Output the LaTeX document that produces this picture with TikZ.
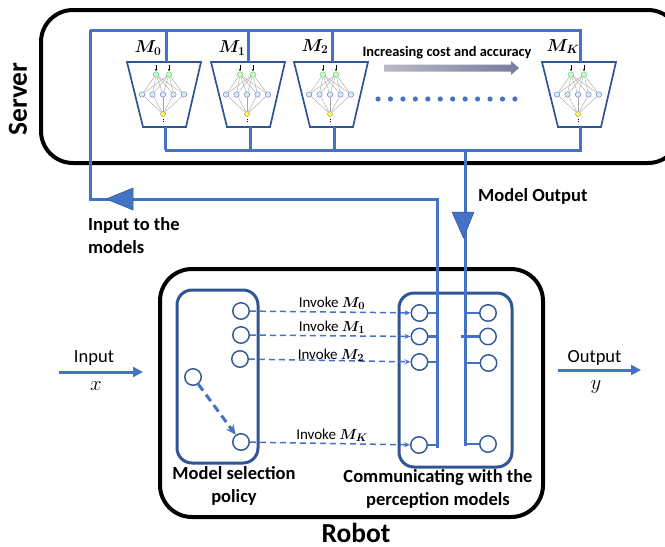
\documentclass[tikz,border=0pt]{standalone}
\usepackage{amsmath}
\usepackage{fontspec}
\setmainfont{Carlito}
\usetikzlibrary{arrows.meta}
\definecolor{blueline}{HTML}{4472C4}
\definecolor{bluedark}{HTML}{2F5597}
\tikzset{
  hostbox/.style={draw=black,line width=4pt,rounded corners=32pt},
  innerbox/.style={draw=bluedark,line width=3pt,rounded corners=15pt},
  link/.style={draw=blueline,line width=3pt},
  thinlink/.style={draw=blueline,line width=2.4pt},
  invoke/.style={draw=blueline,line width=1.5pt,dash pattern=on 6pt off 4pt,-{Stealth[length=6pt,width=5pt]}},
  port/.style={circle,draw=bluedark,line width=1.4pt,fill=white,minimum size=16.5pt,inner sep=0pt},
  trap/.style={draw=bluedark,line width=1.7pt,fill=white},
  nnedge/.style={draw=gray!70,line width=0.4pt},
  nngreen/.style={circle,draw=green!45!gray,line width=0.3pt,fill=green!22,minimum size=5.5pt,inner sep=0pt},
  nnblue/.style={circle,draw=blue!35!gray,line width=0.3pt,fill=cyan!18,minimum size=5.5pt,inner sep=0pt},
  nnyellow/.style={circle,draw=olive,line width=0.3pt,fill=yellow!55,minimum size=5pt,inner sep=0pt},
  heavy/.style={font=\fontsize{18.5}{23}\selectfont\bfseries,align=center,inner sep=0pt},
  bigtitle/.style={font=\fontsize{27.5}{30}\selectfont\bfseries,inner sep=0pt},
  plain/.style={font=\fontsize{18.5}{22}\selectfont,inner sep=0pt},
  small/.style={font=\fontsize{15}{17}\selectfont\boldmath,inner sep=0pt},
  modelname/.style={font=\fontsize{18.5}{20}\selectfont\boldmath,inner sep=0pt},
  tri/.style={fill=blueline,draw=bluedark,line width=0.5pt},
  flow/.style={draw=blueline,line width=3pt,-{Triangle[length=10pt,width=10pt]}},
}
% name, horizontal shift, x of the top link, x of the bottom link
\newcommand{\nnmodel}[4]{%
  \coordinate (#1top) at (#3,62);
  \coordinate (#1bot) at (#4,127);
  \coordinate (#1feed) at (#3,30);
  \coordinate (#1ret) at (#4,150);
  \begin{scope}[shift={(#2,0)}]
    \draw[trap] (127,62) -- (201,62) -- (186,127) -- (143,127) -- cycle;
    \foreach \b/\bx in {1/15,2/25.5,3/36,4/46.5,5/57} {
      \node[nnblue] (#1b\b) at ({127+\bx},94.5) {};
    }
    \node[nngreen] (#1ga) at (156,74.5) {};
    \node[nngreen] (#1gb) at (169,74.5) {};
    \node[nnyellow] (#1y) at (163,114) {};
    \foreach \b in {1,...,5} {
      \draw[nnedge] (#1ga) -- (#1b\b);
      \draw[nnedge] (#1gb) -- (#1b\b);
      \draw[nnedge] (#1b\b) -- (#1y);
    }
    \draw[black,line width=0.4pt,-{Stealth[length=2pt,width=2pt]}] (156,65) -- (156,71);
    \draw[black,line width=0.4pt,-{Stealth[length=2pt,width=2pt]}] (169,65) -- (169,71);
    \draw[black,line width=1pt,dash pattern=on 1.2pt off 1pt] (163,119) -- (163,123);
  \end{scope}%
}
\begin{document}
\begin{tikzpicture}[x=1pt,y=-1pt]
\useasboundingbox (0,0) rectangle (665,547);
\clip (0,0) rectangle (665,547);

% hosts
\node[bigtitle,rotate=90] (servertitle) at (18,99) {Server};
\draw[hostbox] (41,10) rectangle (680,163);
\draw[hostbox] (160,269) rectangle (543,517);
\node[bigtitle] (robottitle) at (356,533) {Robot};

% server backbone junctions
\coordinate (feedcorner) at (90,30);
\coordinate (returnstart) at (165,150);
\coordinate (returnjoin) at (465,150);

% models
\nnmodel{ma}{0}{166}{165}
\nnmodel{mb}{84}{248}{250}
\nnmodel{mc}{167}{332}{334}
\nnmodel{md}{415}{580}{580}
\node[modelname] (la) at (148,48) {$M_0$};
\node[modelname] (lb) at (232,48) {$M_1$};
\node[modelname] (lc) at (315,46.5) {$M_2$};
\node[modelname] (ld) at (563,46.5) {$M_K$};

% server links
\draw[link,line join=miter] (feedcorner) -- (mdfeed) -- (mdtop);
\draw[link] (mafeed) -- (matop);
\draw[link] (mbfeed) -- (mbtop);
\draw[link] (mcfeed) -- (mctop);
\draw[link,line join=miter] (returnstart) -- (mdret) -- (mdbot);
\draw[link] (mabot) -- (maret);
\draw[link] (mbbot) -- (mbret);
\draw[link] (mcbot) -- (mcret);

% dots and gradient arrow
\foreach \i in {0,...,11} {
  \fill[blueline] ({378+\i*12.45},99) circle (2.6pt);
}
\node[font=\fontsize{14.4}{16}\selectfont\bfseries,inner sep=0pt] (costlabel) at (447,52.5) {Increasing cost and accuracy};
\shade[left color=blue!10!gray!50,right color=blue!15!gray!90,draw=none]
  (384,64.5) -- (511,64.5) -- (511,61) -- (519,68) -- (511,75) -- (511,71.5) -- (384,71.5) -- cycle;

% robot inner boxes
\draw[innerbox] (177,290) rectangle (258,463);
\draw[innerbox] (399,293) rectangle (512,467);

% ports left
\node[port] (p0) at (241,311) {};
\node[port] (p1) at (241,335) {};
\node[port] (p2) at (240,359) {};
\node[port] (pk) at (241,442) {};
\node[port] (ps) at (193,377) {};
% ports sending
\node[port] (a0) at (419.5,313) {};
\node[port] (a1) at (419.5,336.5) {};
\node[port] (a2) at (419.5,362) {};
\node[port] (ak) at (419,445) {};
% ports receiving
\node[port] (b0) at (488,313) {};
\node[port] (b1) at (488,336.5) {};
\node[port] (b2) at (488.5,363) {};
\node[port] (bk) at (488,444) {};

% invokes
\draw[invoke] (p0) -- (a0);
\draw[invoke] (p1) -- (a1);
\draw[invoke] (p2) -- (a2);
\draw[invoke] (pk) -- (ak);
\draw[draw=blueline,line width=3pt,dash pattern=on 8pt off 5pt,-{Stealth[length=10pt,width=9pt]}] (ps) -- (pk);
\node[small] (i0) at (332,303) {Invoke $M_0$};
\node[small] (i1) at (332,327) {Invoke $M_1$};
\node[small] (i2) at (331,355.5) {Invoke $M_2$};
\node[small] (ik) at (332,435.5) {Invoke $M_K$};

% long feed lines
\coordinate (feedbottom) at (90,199);
\coordinate (feedright) at (437,199);
\coordinate (feedinner) at (437,448);
\coordinate (outinner) at (465,446);
\draw[link,line join=miter] (feedcorner) -- (feedbottom) -- (feedright) -- (feedinner);
\draw[link] (returnjoin) -- (outinner);
\draw[thinlink] (a0) -- (437,313);
\draw[thinlink] (a1) -- (437,336.5);
\draw[thinlink] (a2) -- (437,362);
\draw[thinlink] (ak) -- (437,445);
\draw[thinlink] (465,313) -- (b0);
\draw[thinlink] (461,336.5) -- (b1);
\draw[thinlink] (465,363) -- (b2);
\draw[thinlink] (465,444) -- (bk);

% big triangles
\draw[tri] (106,199) -- (133,188) -- (133,210) -- cycle;
\draw[tri] (452,212) -- (474,212) -- (463.5,238) -- cycle;

% labels
\node[heavy,align=left,anchor=west] (inputmodels) at (88,236) {Input to the\\models};
\node[heavy,anchor=west] (modeloutput) at (478,196) {Model Output};
\node[heavy] (policy) at (234,486) {Model selection\\policy};
\node[heavy] (comm) at (438,488.5) {Communicating with the\\perception models};

% robot input / output
\coordinate (inA) at (59,372);
\coordinate (inB) at (143,372);
\coordinate (outA) at (558,370);
\coordinate (outB) at (641,370);
\draw[flow] (inA) -- (inB);
\draw[flow] (outA) -- (outB);
\node[plain] (intext) at (94,358) {Input};
\node[plain] (outtext) at (594.5,358) {Output};
\node[plain,font=\fontsize{21}{22}\selectfont] (xlabel) at (96,386) {$x$};
\node[plain,font=\fontsize{21}{22}\selectfont] (ylabel) at (596,387) {$y$};
\end{tikzpicture}
\end{document}
